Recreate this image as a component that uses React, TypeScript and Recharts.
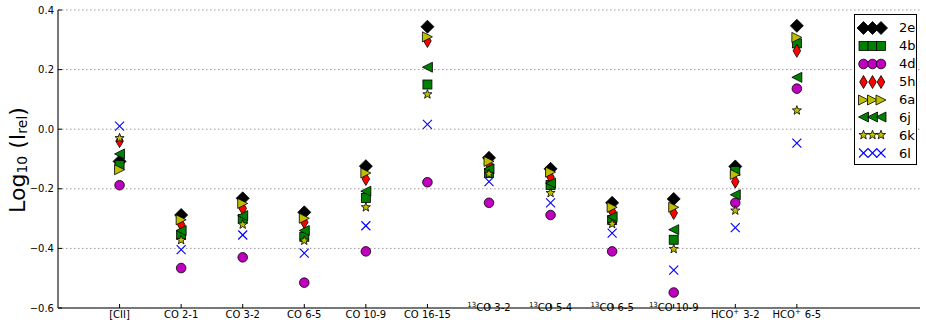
import { ScatterChart, Scatter, XAxis, YAxis, CartesianGrid, Legend } from 'recharts';

const categories = [
  '[CII]', 'CO 2-1', 'CO 3-2', 'CO 6-5', 'CO 10-9', 'CO 16-15',
  '13CO 3-2', '13CO 5-4', '13CO 6-5', '13CO 10-9', 'HCO+ 3-2', 'HCO+ 6-5',
];

const yTicks = [0.4, 0.2, 0, -0.2, -0.4, -0.6];

const s2e = [-0.108, -0.288, -0.232, -0.279, -0.124, 0.344, -0.096, -0.133, -0.247, -0.234, -0.125, 0.347];
const s4b = [-0.12, -0.355, -0.301, -0.361, -0.231, 0.15, -0.147, -0.187, -0.305, -0.371, -0.14, 0.288];
const s4d = [-0.188, -0.466, -0.43, -0.515, -0.41, -0.178, -0.247, -0.288, -0.41, -0.548, -0.247, 0.136];
const s5h = [-0.04, -0.32, -0.266, -0.312, -0.167, 0.296, -0.118, -0.161, -0.276, -0.281, -0.176, 0.263];
const s6a = [-0.136, -0.304, -0.249, -0.299, -0.147, 0.31, -0.108, -0.144, -0.262, -0.262, -0.152, 0.308];
const s6j = [-0.083, -0.34, -0.29, -0.34, -0.208, 0.208, -0.133, -0.181, -0.294, -0.337, -0.22, 0.174];
const s6k = [-0.03, -0.372, -0.32, -0.374, -0.262, 0.117, -0.15, -0.214, -0.318, -0.402, -0.273, 0.063];
const s6l = [0.01, -0.404, -0.355, -0.416, -0.324, 0.016, -0.176, -0.247, -0.349, -0.473, -0.33, -0.047];

const series = [
  { name: '2e', values: s2e, kind: 'D', color: '#000000' },
  { name: '4b', values: s4b, kind: 's', color: '#008000' },
  { name: '4d', values: s4d, kind: 'o', color: '#bf00bf' },
  { name: '5h', values: s5h, kind: 'd', color: '#ff0000' },
  { name: '6a', values: s6a, kind: '>', color: '#bfbf00' },
  { name: '6j', values: s6j, kind: '<', color: '#008000' },
  { name: '6k', values: s6k, kind: '*', color: '#bfbf00' },
  { name: '6l', values: s6l, kind: 'x', color: '#0000ff' },
];

const FONT = '"DejaVu Sans", sans-serif';

function drawMarker(kind: string, cx: number, cy: number, color: string, key?: number) {
  const edge = { stroke: '#000', strokeWidth: 0.8 };
  switch (kind) {
    case 'D': {
      const r = 6.5;
      return <polygon key={key} points={`${cx},${cy - r} ${cx + r},${cy} ${cx},${cy + r} ${cx - r},${cy}`} fill={color} {...edge} />;
    }
    case 's': {
      const h = 4.5;
      return <rect key={key} x={cx - h} y={cy - h} width={2 * h} height={2 * h} fill={color} {...edge} />;
    }
    case 'o':
      return <circle key={key} cx={cx} cy={cy} r={4.8} fill={color} {...edge} />;
    case 'd': {
      const w = 3.8, h = 6.5;
      return <polygon key={key} points={`${cx},${cy - h} ${cx + w},${cy} ${cx},${cy + h} ${cx - w},${cy}`} fill={color} {...edge} />;
    }
    case '>': {
      const r = 5;
      return <polygon key={key} points={`${cx + r},${cy} ${cx - r},${cy - r} ${cx - r},${cy + r}`} fill={color} {...edge} />;
    }
    case '<': {
      const r = 5;
      return <polygon key={key} points={`${cx - r},${cy} ${cx + r},${cy - r} ${cx + r},${cy + r}`} fill={color} {...edge} />;
    }
    case '*': {
      const pts: string[] = [];
      for (let i = 0; i < 10; i++) {
        const a = -Math.PI / 2 + (i * Math.PI) / 5;
        const rad = i % 2 === 0 ? 4.8 : 2;
        pts.push(`${cx + rad * Math.cos(a)},${cy + rad * Math.sin(a)}`);
      }
      return <polygon key={key} points={pts.join(' ')} fill={color} {...edge} />;
    }
    default: {
      const r = 4.5;
      return (
        <g key={key} stroke={color} strokeWidth={1.1}>
          <line x1={cx - r} y1={cy - r} x2={cx + r} y2={cy + r} />
          <line x1={cx - r} y1={cy + r} x2={cx + r} y2={cy - r} />
        </g>
      );
    }
  }
}

function CategoryTick({ x, y, payload }: any) {
  const label = categories[payload.value - 1] ?? '';
  let body;
  if (label.startsWith('13')) {
    body = (
      <>
        <tspan fontSize={7} dy={-4}>13</tspan>
        <tspan dy={4}>{label.slice(2)}</tspan>
      </>
    );
  } else if (label.startsWith('HCO+')) {
    body = (
      <>
        <tspan>HCO</tspan>
        <tspan fontSize={7} dy={-4}>+</tspan>
        <tspan dy={4} dx={4}>{label.slice(5)}</tspan>
      </>
    );
  } else {
    body = label;
  }
  return (
    <text x={x} y={y} dy="0.71em" textAnchor="middle" fill="#000" fontSize={10} fontFamily={FONT}>
      {body}
    </text>
  );
}

const emptyTick = () => <g />;

function YLabel() {
  const cx = 17, cy = 160;
  return (
    <text x={cx} y={cy} transform={`rotate(-90, ${cx}, ${cy})`} textAnchor="middle" dominantBaseline="central" fill="#000" fontSize={22} fontFamily={FONT}>
      Log
      <tspan fontSize={14} dy={5}>10</tspan>
      <tspan dy={-5}> (I</tspan>
      <tspan fontSize={14} dy={5}>rel</tspan>
      <tspan dy={-5}>)</tspan>
    </text>
  );
}

function LegendBox() {
  return (
    <div style={{ border: '1px solid #000', background: '#fff', width: 61, padding: '4px 0 2px 0', fontFamily: FONT, fontSize: 13, color: '#000' }}>
      {series.map((s) => (
        <div key={s.name} style={{ display: 'flex', alignItems: 'center', height: 17.9 }}>
          <svg width={44} height={18} style={{ display: 'block' }}>
            {[8.5, 17.5, 26].map((mx, i) => drawMarker(s.kind, mx, 9, s.color, i))}
          </svg>
          <span>{s.name}</span>
        </div>
      ))}
    </div>
  );
}

export default function App() {
  return (
    <div style={{ position: 'absolute', left: 0, top: 0, background: '#fff', fontFamily: FONT }}>
      <ScatterChart width={926} height={328} margin={{ top: 10, right: 6, bottom: 0, left: 8 }}>
        <CartesianGrid horizontal vertical={false} stroke="#999" strokeDasharray="1.5 2.5" />
        <XAxis
          xAxisId={0}
          type="number"
          dataKey="x"
          domain={[0, 14]}
          ticks={categories.map((_, i) => i + 1)}
          interval={0}
          height={20}
          tickSize={-4}
          tickMargin={7}
          tick={<CategoryTick />}
          axisLine={{ stroke: '#777', strokeWidth: 2 }}
          tickLine={{ stroke: '#000' }}
        />
        <XAxis
          xAxisId="top"
          orientation="top"
          type="number"
          domain={[0, 14]}
          ticks={categories.map((_, i) => i + 1)}
          interval={0}
          height={0}
          tickSize={-4}
          tick={emptyTick}
          axisLine={{ stroke: '#222' }}
          tickLine={{ stroke: '#000' }}
        />
        <YAxis
          yAxisId={0}
          type="number"
          dataKey="y"
          domain={[-0.6, 0.4]}
          ticks={yTicks}
          interval={0}
          width={50}
          tickSize={-4}
          tickMargin={8}
          tickFormatter={(v: number) => v.toFixed(1).replace('-', '\u2212')}
          tick={{ fill: '#000', fontSize: 10, fontFamily: FONT }}
          axisLine={{ stroke: '#777', strokeWidth: 2 }}
          tickLine={{ stroke: '#000' }}
          label={{ content: () => <YLabel /> }}
        />
        <YAxis
          yAxisId="right"
          orientation="right"
          type="number"
          domain={[-0.6, 0.4]}
          ticks={yTicks}
          interval={0}
          width={0}
          tickSize={-4}
          tick={emptyTick}
          axisLine={{ stroke: '#222' }}
          tickLine={{ stroke: '#000' }}
        />
        {series.map((s) => (
          <Scatter
            key={s.name}
            name={s.name}
            xAxisId={0}
            yAxisId={0}
            data={s.values.map((v, i) => ({ x: i + 1, y: v }))}
            isAnimationActive={false}
            shape={(p: any) => drawMarker(s.kind, p.cx, p.cy, s.color)}
          />
        ))}
        <Legend
          layout="horizontal"
          verticalAlign="middle"
          align="center"
          content={() => <LegendBox />}
          wrapperStyle={{ left: 854, top: 14, width: 63, height: 'auto' }}
        />
      </ScatterChart>
    </div>
  );
}
